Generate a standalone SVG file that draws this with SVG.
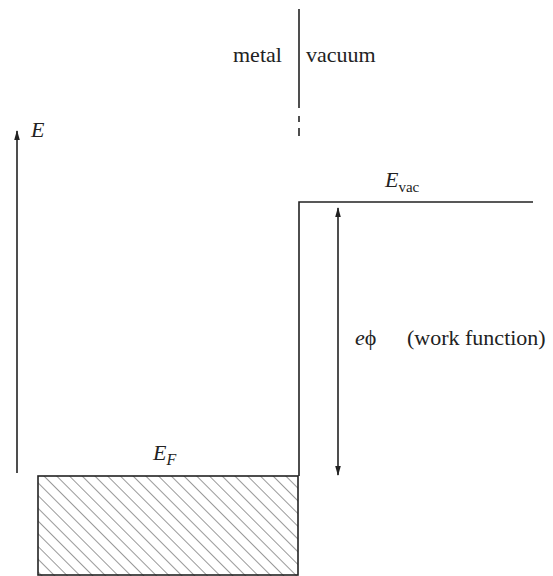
<svg xmlns="http://www.w3.org/2000/svg" width="553" height="576" viewBox="0 0 553 576">
<defs>
<style>
.t{font-family:"Liberation Serif","Times New Roman",serif;font-size:22px;fill:#222}
.i{font-style:italic}
.ln{stroke:#222;stroke-width:1.6;fill:none}
.h{stroke:#333;stroke-width:1}
</style>
<marker id="ah" viewBox="0 0 10 10" refX="9" refY="5" markerWidth="10" markerHeight="7" markerUnits="userSpaceOnUse" orient="auto-start-reverse" preserveAspectRatio="none">
<path d="M0,1 L10,5 L0,9 Z" fill="#222"/>
</marker>
<pattern id="hatch" patternUnits="userSpaceOnUse" width="9" height="9" patternTransform="rotate(-45)">
<line x1="0" y1="0" x2="0" y2="9" class="h"/>
</pattern>
<clipPath id="bc"><rect x="38" y="476" width="260" height="100"/></clipPath>
</defs>
<rect width="553" height="576" fill="#fff"/>
<g id="divider">
<line class="ln" x1="299" y1="9" x2="299" y2="108"/>
<line class="ln" x1="299" y1="116" x2="299" y2="122"/>
<line class="ln" x1="299" y1="128" x2="299" y2="136"/>
<text class="t" x="233" y="62">metal</text>
<text class="t" x="306" y="62">vacuum</text>
</g>
<g id="axis">
<line class="ln" x1="17" y1="473" x2="17" y2="131" marker-end="url(#ah)"/>
<text class="t i" x="31" y="137">E</text>
</g>
<g id="vacuum-level">
<polyline class="ln" points="299,476 299,202 533,202"/>
<text class="t" x="385" y="187"><tspan class="i">E</tspan><tspan font-size="15" dy="5">vac</tspan></text>
</g>
<g id="fermi">
<g clip-path="url(#bc)">
<rect x="38" y="476" width="260" height="100" fill="url(#hatch)"/>
</g>
<rect x="38" y="476" width="260" height="99" fill="none" class="ln"/>
<text class="t" x="153" y="460"><tspan class="i">E</tspan><tspan class="i" font-size="16" dy="5">F</tspan></text>
</g>
<g id="connectors">
<line class="ln" x1="338" y1="208" x2="338" y2="475" marker-start="url(#ah)" marker-end="url(#ah)"/>
</g>
<g id="workfunction">
<text class="t" x="355" y="345"><tspan class="i">e</tspan>ϕ</text>
<text class="t" x="407" y="345">(work function)</text>
</g>
</svg>
